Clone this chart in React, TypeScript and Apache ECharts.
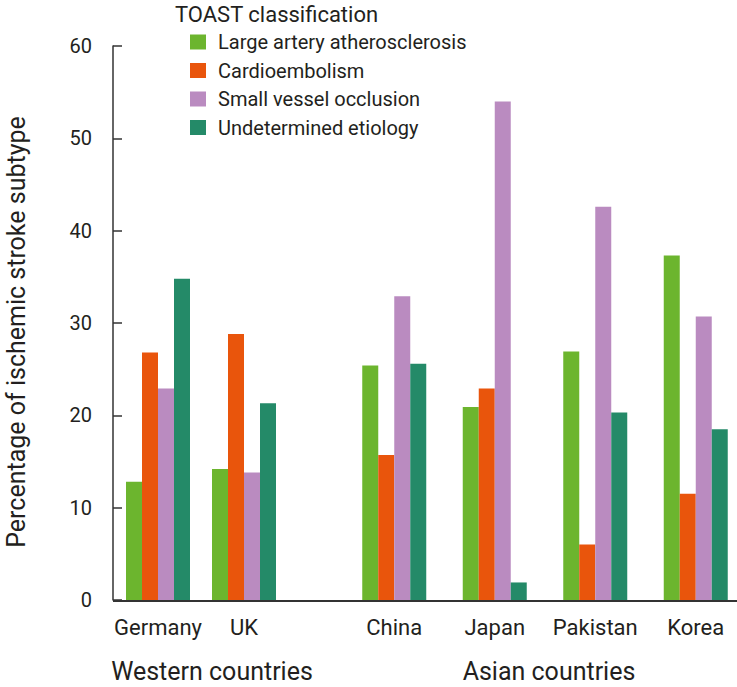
import React, { useEffect, useRef } from "react";
import * as echarts from "echarts";

const westernCountries = ["Germany", "UK"];
const asianCountries = ["China", "Japan", "Pakistan", "Korea"];
const subtypeNames = [
  "Large artery atherosclerosis",
  "Cardioembolism",
  "Small vessel occlusion",
  "Undetermined etiology",
];
// values in order: Germany, UK, China, Japan, Pakistan, Korea
const largeArtery = [12.8, 14.2, 25.4, 20.9, 26.9, 37.3];
const cardioembolism = [26.8, 28.8, 15.7, 22.9, 6.0, 11.5];
const smallVessel = [22.9, 13.8, 32.9, 54.0, 42.6, 30.7];
const undetermined = [34.8, 21.3, 25.6, 1.9, 20.3, 18.5];
const subtypeColors = ["#6cb52e", "#e9550c", "#ba8bc0", "#248a68"];
const yTicks = [0, 10, 20, 30, 40, 50, 60];

const FONT = "Roboto";
const TEXT = "#231f20";

export default function App() {
  const ref = useRef<HTMLDivElement>(null);
  useEffect(() => {
    if (!ref.current) return;
    const chart = echarts.init(ref.current, null, { renderer: "svg" });
    const allValues = [largeArtery, cardioembolism, smallVessel, undetermined];
    const nW = westernCountries.length;
    const series: any[] = [];
    allValues.forEach((vals, i) => {
      series.push({
        name: subtypeNames[i],
        type: "bar",
        xAxisIndex: 0,
        yAxisIndex: 0,
        data: vals.slice(0, nW),
        barWidth: 16,
        barGap: "0%",
        itemStyle: { color: subtypeColors[i] },
      });
    });
    allValues.forEach((vals, i) => {
      series.push({
        name: subtypeNames[i],
        type: "bar",
        xAxisIndex: 1,
        yAxisIndex: 1,
        data: vals.slice(nW),
        barWidth: 16,
        barGap: "0%",
        itemStyle: { color: subtypeColors[i] },
      });
    });
    const xAxisCommon = {
      type: "category",
      axisLine: { show: false },
      axisTick: { show: false },
      axisLabel: {
        fontFamily: FONT,
        fontSize: 22,
        color: TEXT,
        margin: 16,
        interval: 0,
        hideOverlap: false,
      },
    };
    const yMin = yTicks[0];
    const yMax = yTicks[yTicks.length - 1];
    const option: any = {
      animation: false,
      textStyle: { fontFamily: FONT },
      title: {
        text: "TOAST classification",
        left: 170,
        top: -2,
        textStyle: { fontFamily: FONT, fontSize: 22, fontWeight: "normal", color: TEXT },
      },
      legend: {
        orient: "vertical",
        left: 185,
        top: 27,
        itemWidth: 16,
        itemHeight: 15,
        itemGap: 8.5,
        icon: "rect",
        data: subtypeNames,
        textStyle: { fontFamily: FONT, fontSize: 20, color: TEXT, padding: [0, 0, 0, 7] },
      },
      grid: [
        { left: 115, top: 46, width: 172, height: 554 },
        { left: 344, top: 46, width: 402, height: 554 },
      ],
      xAxis: [
        { ...xAxisCommon, gridIndex: 0, data: westernCountries },
        { ...xAxisCommon, gridIndex: 1, data: asianCountries },
      ],
      yAxis: [
        {
          type: "value",
          gridIndex: 0,
          min: yMin,
          max: yMax,
          interval: 10,
          offset: 2,
          splitLine: { show: false },
          axisLine: { show: true, lineStyle: { color: "#333", width: 1.5 } },
          axisTick: { show: true, inside: true, length: 9, lineStyle: { color: "#333", width: 1.5 } },
          axisLabel: { fontFamily: FONT, fontSize: 20, color: TEXT, margin: 21 },
          name: "Percentage of ischemic stroke subtype",
          nameLocation: "middle",
          nameRotate: 90,
          nameGap: 84,
          nameTextStyle: { fontFamily: FONT, fontSize: 25, color: TEXT, padding: [0, 18, 0, 0] },
        },
        {
          type: "value",
          gridIndex: 1,
          min: yMin,
          max: yMax,
          interval: 10,
          show: false,
          splitLine: { show: false },
        },
      ],
      graphic: [
        {
          type: "line",
          shape: { x1: 113, y1: 601, x2: 760, y2: 601 },
          style: { stroke: "#333", lineWidth: 2 },
          z: 10,
        },
        {
          type: "text",
          x: 212,
          y: 684,
          style: {
            text: "Western countries",
            fontFamily: FONT,
            fontSize: 25,
            fill: TEXT,
            textAlign: "center",
            textVerticalAlign: "bottom",
          },
        },
        {
          type: "text",
          x: 549,
          y: 684,
          style: {
            text: "Asian countries",
            fontFamily: FONT,
            fontSize: 25,
            fill: TEXT,
            textAlign: "center",
            textVerticalAlign: "bottom",
          },
        },
      ],
      series,
    };
    chart.setOption(option);
    return () => chart.dispose();
  }, []);
  return (
    <div
      style={{
        position: "absolute",
        left: 0,
        top: 0,
        width: 737,
        height: 687,
        overflow: "hidden",
        background: "#fff",
      }}
    >
      <div ref={ref} style={{ width: 760, height: 687 }} />
    </div>
  );
}
